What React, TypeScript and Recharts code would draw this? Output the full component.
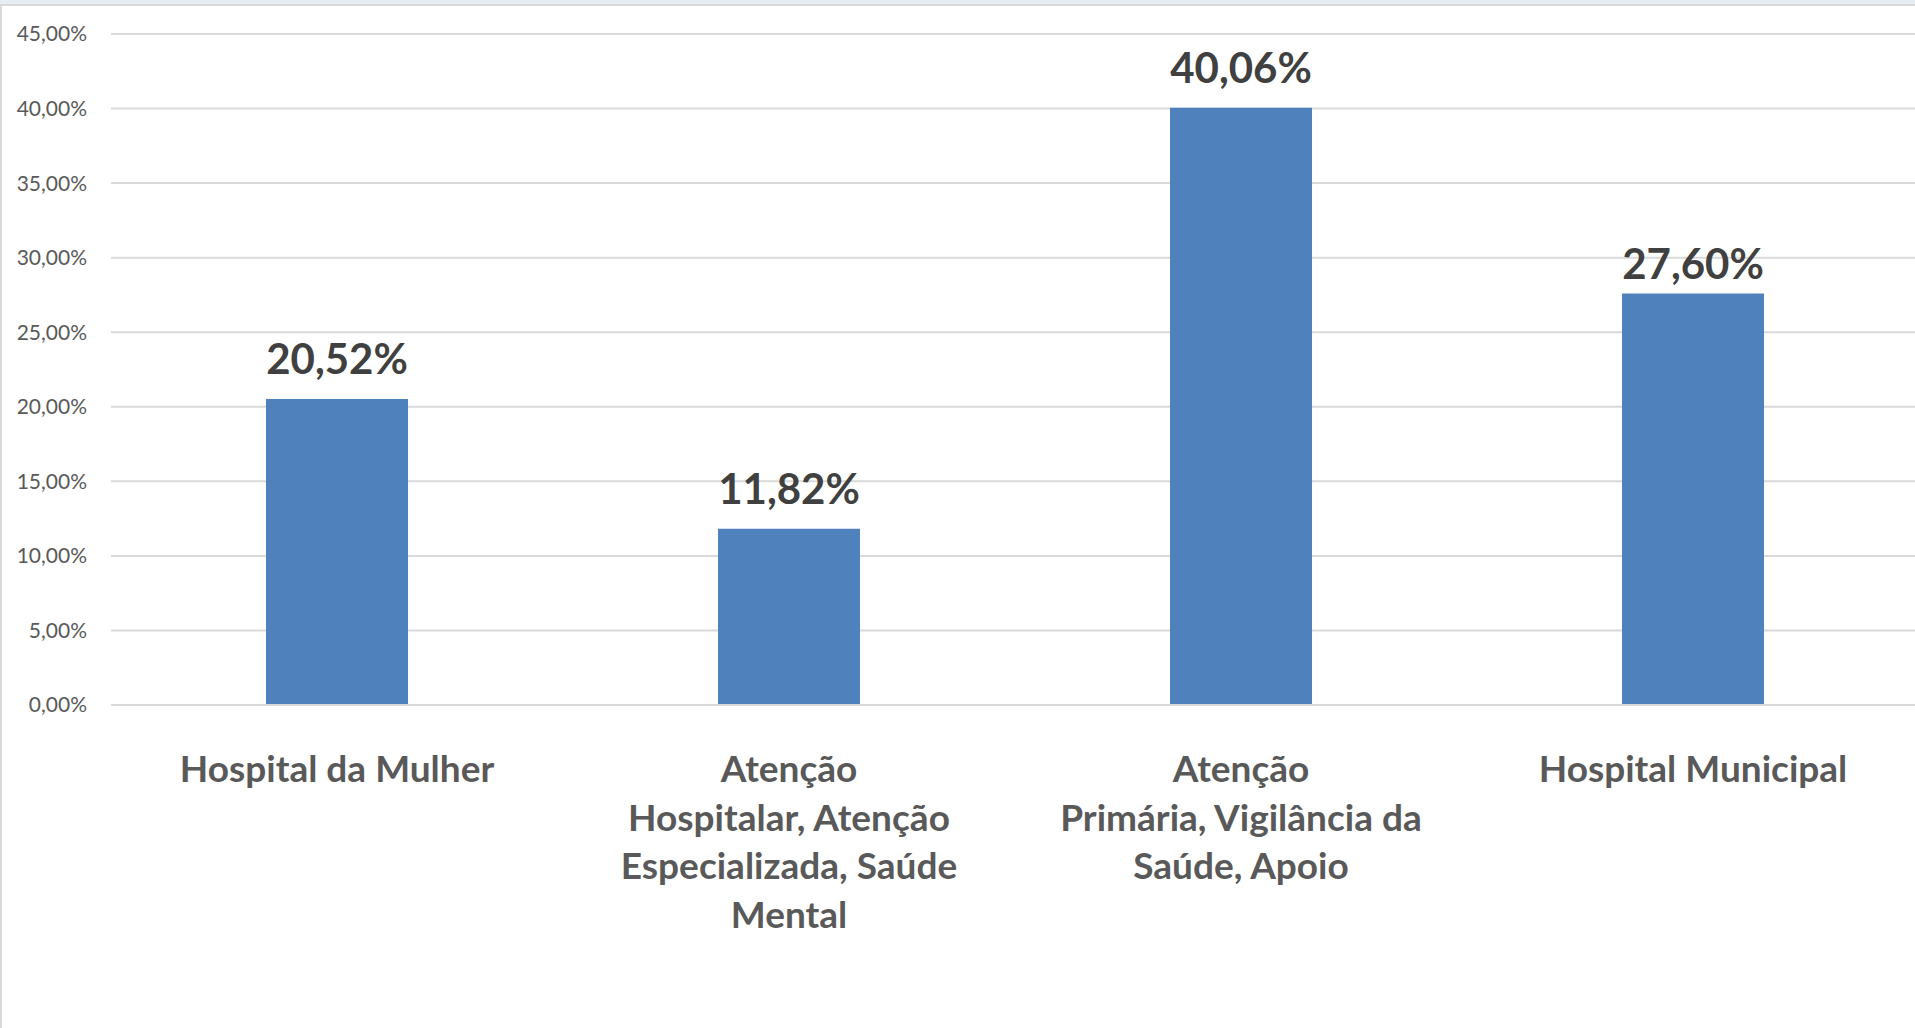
import { Bar, BarChart, CartesianGrid, LabelList, XAxis, YAxis } from "recharts";

const categories = [
  "Hospital da Mulher",
  "Atenção Hospitalar, Atenção Especializada, Saúde Mental",
  "Atenção Primária, Vigilância da Saúde, Apoio",
  "Hospital Municipal",
];

// line breaks as they appear under each bar
const categoryLines = [
  ["Hospital da Mulher"],
  ["Atenção", "Hospitalar, Atenção", "Especializada, Saúde", "Mental"],
  ["Atenção", "Primária, Vigilância da", "Saúde, Apoio"],
  ["Hospital Municipal"],
];

const shares = [20.52, 11.82, 40.06, 27.6];

const yTicks = [0, 5, 10, 15, 20, 25, 30, 35, 40, 45];

const data = categories.map((name, i) => ({ name, share: shares[i] }));

const FONT = "Lato, 'Open Sans', sans-serif";

function pct(v: number) {
  return v.toFixed(2).replace(".", ",") + "%";
}

function CategoryTick(props: any) {
  const { x, y, index } = props;
  const lines = categoryLines[index] ?? [];
  return (
    <text
      x={x}
      y={y + 77}
      textAnchor="middle"
      fill="#595959"
      fontFamily={FONT}
      fontWeight={700}
      fontSize={37}
    >
      {lines.map((line, i) => (
        <tspan key={i} x={x} dy={i === 0 ? 0 : 48.5}>
          {line}
        </tspan>
      ))}
    </text>
  );
}

function ValueLabel(props: any) {
  const { x, y, width, value, index } = props;
  // the last label sits a bit closer to its bar in the original
  const gap = index === 3 ? 14 : 25;
  return (
    <text
      x={Number(x) + Number(width) / 2}
      y={Number(y) - gap}
      textAnchor="middle"
      fill="#404040"
      fontFamily={FONT}
      fontWeight={700}
      fontSize={42}
    >
      {pct(Number(value))}
    </text>
  );
}

export default function App() {
  return (
    <div
      style={{
        position: "absolute",
        top: 0,
        left: 0,
        width: 1915,
        height: 1028,
        overflow: "hidden",
        background: "#ffffff",
      }}
    >
      <BarChart
        width={1919}
        height={1028}
        data={data}
        margin={{ top: 34, right: 0, left: 0, bottom: 0 }}
        barCategoryGap={155}
      >
        <CartesianGrid vertical={false} stroke="#d9d9d9" strokeWidth={2} />
        <XAxis
          dataKey="name"
          height={323}
          interval={0}
          axisLine={{ stroke: "#d9d9d9", strokeWidth: 2 }}
          tickLine={false}
          tickSize={0}
          tickMargin={0}
          tick={<CategoryTick />}
        />
        <YAxis
          width={111}
          domain={[0, 45]}
          ticks={yTicks}
          interval={0}
          axisLine={false}
          tickLine={false}
          tickSize={0}
          tickMargin={24}
          tickFormatter={(v: number) => pct(v)}
          tick={{ fill: "#595959", fontSize: 21, fontFamily: FONT }}
        />
        <Bar dataKey="share" fill="#4f81bd" isAnimationActive={false}>
          <LabelList dataKey="share" content={<ValueLabel />} />
        </Bar>
      </BarChart>
      <div
        style={{
          position: "absolute",
          top: 0,
          left: 0,
          width: 1915,
          height: 4,
          background: "#e8edf4",
        }}
      />
      <div
        style={{
          position: "absolute",
          top: 4,
          left: 0,
          width: 1915,
          height: 2,
          background: "#d9d9d9",
        }}
      />
      <div
        style={{
          position: "absolute",
          top: 4,
          left: 0,
          width: 2,
          height: 1024,
          background: "#d9d9d9",
        }}
      />
    </div>
  );
}
